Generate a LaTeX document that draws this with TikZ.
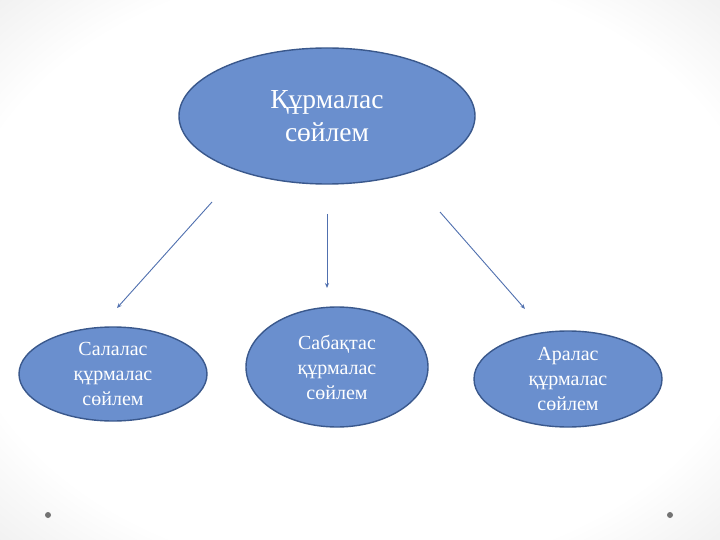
\documentclass[tikz,border=0pt]{standalone}
\usepackage{fontspec}
\setmainfont{Liberation Serif}
\usetikzlibrary{shapes.geometric,arrows.meta}
\definecolor{nodefill}{RGB}{106,143,206}
\definecolor{nodeline}{RGB}{58,88,140}
\definecolor{arrowcol}{RGB}{80,112,175}
\pgfdeclareradialshading{slidebg}{\pgfpoint{0bp}{0bp}}{color(0bp)=(white); color(28bp)=(white); color(50bp)=(black!16); color(72bp)=(black!20)}
\tikzset{
  bubble/.style={ellipse, draw=nodeline, line width=1.4pt, fill=nodefill, text=white, align=center, inner sep=0pt},
  bigtext/.style={font=\fontsize{27.5}{33}\selectfont},
  smalltext/.style={font=\fontsize{20}{25}\selectfont},
  link/.style={draw=arrowcol, line width=0.9pt, -{Stealth[length=5pt,width=4pt]}},
  dot/.style={circle, fill=black!55, inner sep=0pt, minimum size=6pt}
}
\begin{document}
\begin{tikzpicture}[x=1pt,y=-1pt]
\useasboundingbox (0,0) rectangle (720,540);
\shade[shading=slidebg] (0,0) rectangle (720,540);
\node[bubble, bigtext, minimum width=296pt, minimum height=136pt] (top) at (327,116) {Құрмалас\\сөйлем};
\node[bubble, smalltext, minimum width=188pt, minimum height=94pt] (left) at (113,374) {Салалас\\құрмалас\\сөйлем};
\node[bubble, smalltext, minimum width=182pt, minimum height=120pt] (mid) at (337,367) {Сабақтас\\құрмалас\\сөйлем};
\node[bubble, smalltext, minimum width=188pt, minimum height=96pt] (right) at (568,379) {Аралас\\құрмалас\\сөйлем};
\coordinate (ls) at (212,202);
\coordinate (le) at (117,308);
\coordinate (ms) at (327,214);
\coordinate (me) at (327,288);
\coordinate (rs) at (440,212);
\coordinate (re) at (525,309);
\draw[link] (ls) -- (le);
\draw[link] (ms) -- (me);
\draw[link] (rs) -- (re);
\node[dot] (d1) at (48,515) {};
\node[dot] (d2) at (670,515) {};
\end{tikzpicture}
\end{document}
